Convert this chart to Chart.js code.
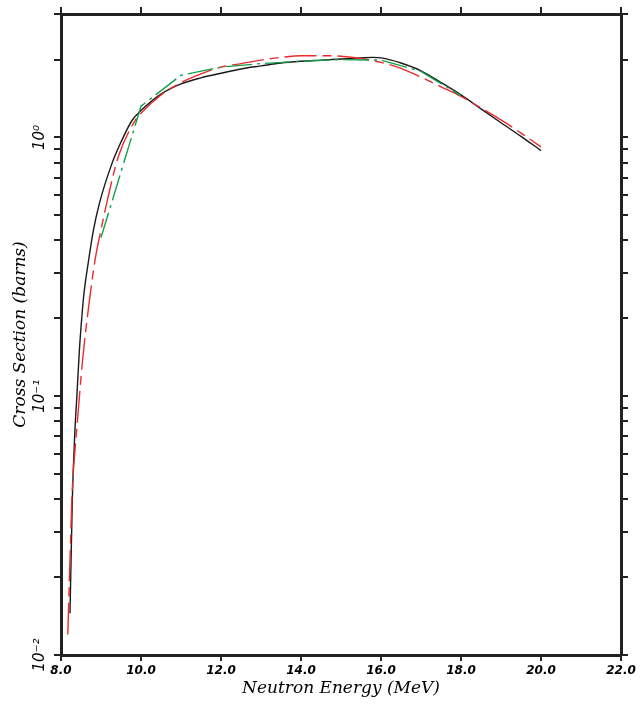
<!DOCTYPE html>
<html>
<head>
<meta charset="utf-8">
<script src="https://cdn.jsdelivr.net/npm/chart.js@4.4.0/dist/chart.umd.min.js"></script>
<style>
html, body { margin: 0; padding: 0; background: #fff; }
</style>
</head>
<body>
<canvas id="xsChart" width="640" height="705"></canvas>
<script>
// energies in MeV, cross sections in barns
var blackE = [8.225, 8.283, 8.345, 8.395, 8.46, 8.52, 8.575, 8.69, 8.81, 8.96, 9.275, 9.5, 9.775, 10.0, 10.5, 11.0, 11.5, 12.0, 12.5, 13.0, 13.5, 14.0, 14.5, 15.0, 15.5, 15.8, 16.0, 16.5, 17.0, 17.5, 18.0, 18.5, 19.0, 19.5, 20.0];
var blackXS = [0.0145, 0.0397, 0.072, 0.099, 0.151, 0.202, 0.25, 0.335, 0.437, 0.556, 0.794, 0.96, 1.163, 1.27, 1.47, 1.61, 1.70, 1.77, 1.84, 1.89, 1.94, 1.97, 1.99, 2.01, 2.03, 2.04, 2.03, 1.94, 1.81, 1.63, 1.46, 1.29, 1.14, 1.01, 0.89];

var redE = [8.17, 8.22, 8.28, 8.35, 8.41, 8.54, 8.68, 8.85, 9.0, 9.14, 9.43, 9.85, 10.0, 10.5, 11.0, 11.5, 12.0, 12.5, 13.0, 13.5, 14.0, 14.5, 15.0, 15.5, 16.0, 16.5, 17.0, 17.5, 18.0, 18.5, 19.0, 19.5, 20.0];
var redXS = [0.012, 0.022, 0.043, 0.062, 0.08, 0.138, 0.215, 0.335, 0.44, 0.555, 0.84, 1.16, 1.24, 1.46, 1.63, 1.76, 1.87, 1.93, 1.99, 2.04, 2.07, 2.07, 2.06, 2.02, 1.95, 1.85, 1.71, 1.57, 1.44, 1.30, 1.17, 1.04, 0.92];

var greenE = [9.0, 10.0, 11.0, 12.0, 13.0, 14.0, 15.0, 16.0, 17.0, 18.0];
var greenXS = [0.41, 1.32, 1.74, 1.87, 1.93, 1.97, 2.0, 1.99, 1.80, 1.45];

var xTickValues = [8, 10, 12, 14, 16, 18, 20, 22];
var xTickLabels = ['8.0', '10.0', '12.0', '14.0', '16.0', '18.0', '20.0', '22.0'];

var yTickValues = [0.01, 0.02, 0.03, 0.04, 0.05, 0.06, 0.07, 0.08, 0.09,
                   0.1, 0.2, 0.3, 0.4, 0.5, 0.6, 0.7, 0.8, 0.9, 1, 2, 3];
var yTickLabels = ['10\u207B\u00B2', '', '', '', '', '', '', '', '',
                   '10\u207B\u00B9', '', '', '', '', '', '', '', '', '10\u2070', '', ''];

function toPoints(xs, ys) {
    return xs.map(function (x, i) { return { x: x, y: ys[i] }; });
}

var frameColor = '#222';

function setTicks(values) {
    return function (scale) {
        scale.ticks = values.map(function (v) { return { value: v }; });
    };
}

var ctx = document.getElementById('xsChart').getContext('2d');
var chart = new Chart(ctx, {
    type: 'line',
    data: {
        datasets: [
            {
                label: 'green',
                data: toPoints(greenE, greenXS),
                borderColor: '#14a04a',
                borderWidth: 1.4,
                borderDash: [26, 5, 3, 5],
                pointRadius: 0,
                tension: 0,
                fill: false
            },
            {
                label: 'red',
                data: toPoints(redE, redXS),
                borderColor: '#ec2a2c',
                borderWidth: 1.4,
                borderDash: [32, 6, 9, 6],
                pointRadius: 0,
                cubicInterpolationMode: 'monotone',
                fill: false
            },
            {
                label: 'black',
                data: toPoints(blackE, blackXS),
                borderColor: '#1a1a1a',
                borderWidth: 1.4,
                pointRadius: 0,
                cubicInterpolationMode: 'monotone',
                fill: false
            }
        ]
    },
    options: {
        responsive: false,
        animation: false,
        layout: { padding: 0 },
        plugins: { legend: { display: false }, tooltip: { enabled: false } },
        scales: {
            x: {
                type: 'linear',
                position: 'bottom',
                min: 8,
                max: 22,
                afterBuildTicks: setTicks(xTickValues),
                afterFit: function (s) { s.height = 50; },
                border: { display: true, width: 3, color: frameColor },
                grid: { drawOnChartArea: false, drawTicks: true, tickLength: 6, color: frameColor, lineWidth: 2 },
                ticks: {
                    autoSkip: false,
                    maxRotation: 0,
                    padding: 3,
                    color: '#000',
                    font: { family: 'DejaVu Sans', size: 12, style: 'italic', weight: 'bold' },
                    callback: function (v, i) { return xTickLabels[i]; }
                },
                title: {
                    display: true,
                    text: 'Neutron Energy (MeV)',
                    color: '#000',
                    font: { family: 'DejaVu Serif', size: 17, style: 'italic' },
                    padding: { top: 0, bottom: 6 }
                }
            },
            x2: {
                type: 'linear',
                position: 'top',
                min: 8,
                max: 22,
                afterBuildTicks: setTicks(xTickValues),
                afterFit: function (s) { s.height = 14; },
                border: { display: true, width: 3, color: frameColor },
                grid: { drawOnChartArea: false, drawTicks: true, tickLength: 7, color: frameColor, lineWidth: 2 },
                ticks: { display: false }
            },
            y: {
                type: 'logarithmic',
                position: 'left',
                min: 0.01,
                max: 3,
                afterBuildTicks: setTicks(yTickValues),
                afterFit: function (s) { s.width = 61; },
                border: { display: true, width: 3, color: frameColor },
                grid: { drawOnChartArea: false, drawTicks: true, tickLength: 7, color: frameColor, lineWidth: 2 },
                ticks: {
                    autoSkip: false,
                    minRotation: 90,
                    maxRotation: 90,
                    crossAlign: 'center',
                    padding: -3,
                    color: '#000',
                    font: { family: 'DejaVu Sans', size: 15, style: 'italic' },
                    callback: function (v, i) { return yTickLabels[i]; }
                },
                title: {
                    display: true,
                    text: 'Cross Section (barns)',
                    color: '#000',
                    font: { family: 'DejaVu Serif', size: 17, style: 'italic' },
                    padding: { top: 10, bottom: 0 }
                }
            },
            y2: {
                type: 'logarithmic',
                position: 'right',
                min: 0.01,
                max: 3,
                afterBuildTicks: setTicks(yTickValues),
                afterFit: function (s) { s.width = 19; },
                border: { display: true, width: 3, color: frameColor },
                grid: { drawOnChartArea: false, drawTicks: true, tickLength: 7, color: frameColor, lineWidth: 2 },
                ticks: { display: false }
            }
        }
    }
});
</script>
</body>
</html>
